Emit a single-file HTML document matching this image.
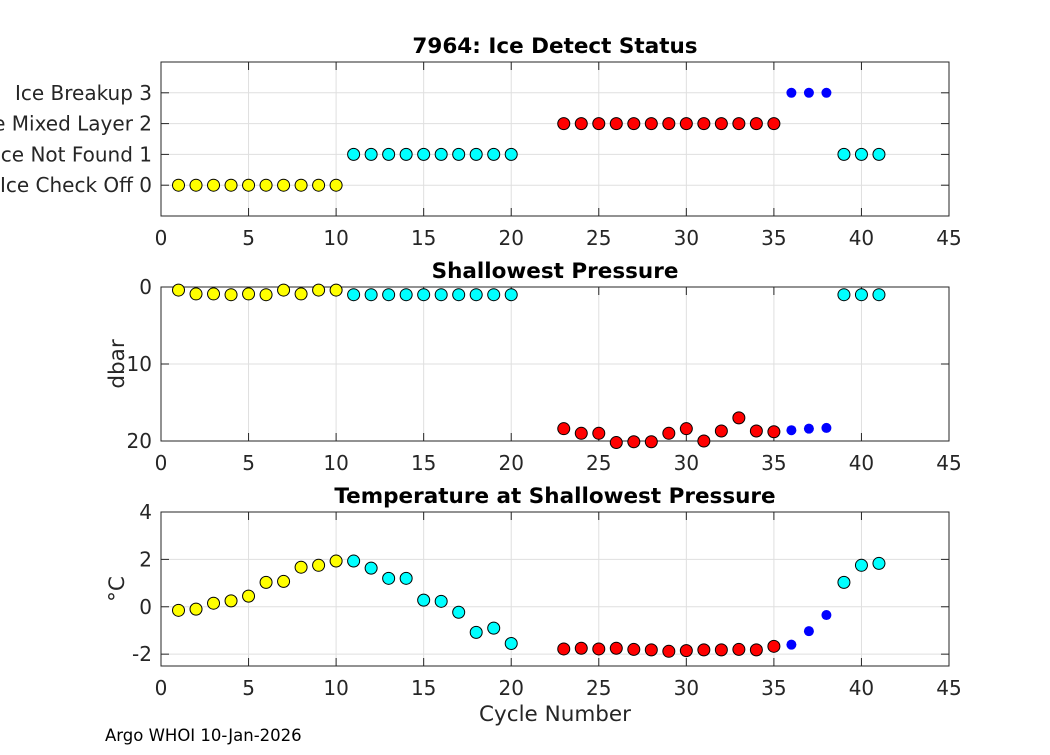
<!DOCTYPE html>
<html><head><meta charset="utf-8"><style>
body{margin:0;background:#fff;width:1050px;height:750px;overflow:hidden}
svg text{font-family:"DejaVu Sans","Liberation Sans",sans-serif;fill:#262626}
</style></head><body>
<svg id="c" width="1050" height="750"></svg>
<script>
const cycles=[1,2,3,4,5,6,7,8,9,10,11,12,13,14,15,16,17,18,19,20,23,24,25,26,27,28,29,30,31,32,33,34,35,36,37,38,39,40,41];
const iceStatus=[0,0,0,0,0,0,0,0,0,0,1,1,1,1,1,1,1,1,1,1,2,2,2,2,2,2,2,2,2,2,2,2,2,3,3,3,1,1,1];
const pressure=[0.4,0.9,0.9,1.0,0.9,1.0,0.4,0.9,0.4,0.4,1,1,1,1,1,1,1,1,1,1,18.4,19.0,19.0,20.2,20.1,20.1,19.0,18.4,20.0,18.7,17.0,18.7,18.8,18.6,18.4,18.3,1,1,1];
const temperature=[-0.15,-0.1,0.15,0.25,0.45,1.03,1.07,1.67,1.75,1.93,1.93,1.63,1.2,1.2,0.28,0.23,-0.23,-1.08,-0.9,-1.55,-1.78,-1.75,-1.78,-1.75,-1.8,-1.82,-1.88,-1.85,-1.82,-1.82,-1.8,-1.82,-1.67,-1.6,-1.03,-0.35,1.03,1.75,1.83];
const xTicks=[0,5,10,15,20,25,30,35,40,45];
const iceLabels=["Ice Check Off 0","Ice Not Found 1","Ice Mixed Layer 2","Ice Breakup 3"];
const colors=["#ffff00","#00ffff","#ff0000","#0000ff"];
const NS="http://www.w3.org/2000/svg";
const svg=document.getElementById('c');
function el(t,a,p){const e=document.createElementNS(NS,t);for(const k in a)e.setAttribute(k,a[k]);(p||svg).appendChild(e);return e;}
const L=161,R=949;
const xs=v=>L+(v-0)/45*(R-L);
function panel(name,top,bot,y0,y1,yticks,ylabels,title,ylab,vals){
  const g=el('g',{});
  
  
  const ys=v=>top+(y1-v)/(y1-y0)*(bot-top);
  el('rect',{x:L,y:top,width:R-L,height:bot-top,fill:'#fff'},g);
  xTicks.forEach(t=>{el('line',{x1:xs(t),x2:xs(t),y1:top,y2:bot,stroke:'#dfdfdf','stroke-width':1},g);});
  yticks.forEach(t=>{el('line',{x1:L,x2:R,y1:ys(t),y2:ys(t),stroke:'#dfdfdf','stroke-width':1},g);});
  el('rect',{x:L,y:top,width:R-L,height:bot-top,fill:'none',stroke:'#262626','stroke-width':1},g);
  xTicks.forEach(t=>{
    el('line',{x1:xs(t),x2:xs(t),y1:bot,y2:bot-8,stroke:'#262626'},g);
    el('line',{x1:xs(t),x2:xs(t),y1:top,y2:top+8,stroke:'#262626'},g);
    const tx=el('text',{x:xs(t),y:bot+29,'font-size':20,'text-anchor':'middle'},g);tx.textContent=t;
  });
  yticks.forEach((t,i)=>{
    el('line',{x1:L,x2:L+8,y1:ys(t),y2:ys(t),stroke:'#262626'},g);
    el('line',{x1:R,x2:R-8,y1:ys(t),y2:ys(t),stroke:'#262626'},g);
    const tx=el('text',{x:L-9,y:ys(t)+7,'font-size':20,'text-anchor':'end'},g);tx.textContent=ylabels[i];
  });
  const tt=el('text',{x:(L+R)/2,y:top-9,'font-size':21.5,'font-weight':'bold','text-anchor':'middle',style:'fill:#000'},g);tt.textContent=title;
  if(ylab){const yl=el('text',{x:0,y:0,'font-size':21.5,'text-anchor':'middle',transform:`translate(124,${(top+bot)/2}) rotate(-90)`},g);yl.textContent=ylab;}
  cycles.forEach((c,i)=>{
    const s=iceStatus[i];
    const m=el('circle',{cx:xs(c),cy:ys(vals[i]),r:s==3?5:6,fill:colors[s],stroke:s==3?'none':'#000','stroke-width':1},g);
    
    
  });
}
panel('ice-status-panel',62,216,-1,4,[0,1,2,3],iceLabels,'7964: Ice Detect Status','',iceStatus);
panel('pressure-panel',287,441,20,0,[0,10,20],['0','10','20'],'Shallowest Pressure','dbar',pressure);
panel('temperature-panel',512,666,-2.5,4,[-2,0,2,4],['-2','0','2','4'],'Temperature at Shallowest Pressure','°C',temperature);
const xl=el('text',{x:(L+R)/2,y:721,'font-size':21.5,'text-anchor':'middle'});xl.textContent='Cycle Number';

const ft=el('text',{x:105,y:741,'font-size':16.5,style:'fill:#000'});ft.textContent='Argo WHOI 10-Jan-2026';

</script>
</body></html>
